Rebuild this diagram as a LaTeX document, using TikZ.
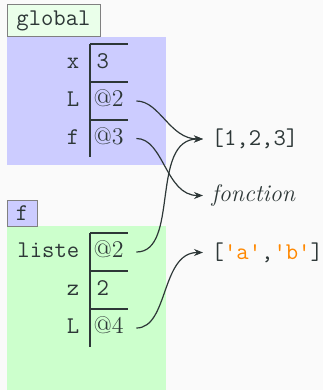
\documentclass[tikz,border=0pt]{standalone}
\usepackage{fontspec}
\usepackage{tikz}
\usetikzlibrary{arrows.meta}

\definecolor{fond}{RGB}{250,250,250}
\definecolor{bleu}{RGB}{204,204,255}
\definecolor{vert}{RGB}{204,255,204}
\definecolor{vertpale}{RGB}{234,255,234}
\definecolor{encre}{RGB}{45,55,55}
\definecolor{chaine}{RGB}{255,136,0}

\tikzset{
  nom/.style={anchor=east, inner sep=1pt, text height=8pt, text depth=2.5pt, font=\fontsize{12}{14}\selectfont\ttfamily},
  val/.style={anchor=west, inner sep=1pt, text height=8pt, text depth=2.5pt, font=\fontsize{12}{14}\selectfont},
  cible/.style={anchor=west, inner xsep=4pt, inner ysep=1pt, font=\fontsize{12}{14}\selectfont},
  etiq/.style={inner sep=0pt, font=\fontsize{12}{14}\selectfont\ttfamily},
  fleche/.style={-{Stealth[length=4.5pt,width=3.5pt]}, line width=0.6pt, shorten <=5pt}
}

\begin{document}
\begin{tikzpicture}[x=0.5pt,y=-0.5pt,encre,line width=0.7pt]
\fill[fond] (0,0) rectangle (323,390);
\useasboundingbox (0,0) rectangle (323,390);

% cadre global
\fill[bleu] (7,37) rectangle (166,165);
\draw[draw=gray, fill=vertpale, line width=0.5pt] (7,5) rectangle (100,37);
\node[etiq] (eglobal) at (53.5,21) {global};
\draw (90,44) -- (90,157);
\foreach \y in {44,82,120}
    \draw (90,\y) -- (128,\y);
\node[nom] (nx) at (82,63) {x};
\node[nom] (nL) at (82,101) {L};
\node[nom] (nf) at (82,138.5) {f};
\node[val] (vx) at (94,63) {\ttfamily 3};
\node[val] (vL) at (91,101) {@2};
\node[val] (vf) at (91,138.5) {@3};

% cadre f
\fill[vert] (7,226) rectangle (166,390);
\draw[draw=gray, fill=bleu, line width=0.5pt] (7,200) rectangle (37,226);
\node[etiq] (ef) at (22,213) {f};
\draw (90,233) -- (90,347);
\foreach \y in {233,271,309}
    \draw (90,\y) -- (128,\y);
\node[nom] (nliste) at (82,252) {liste};
\node[nom] (nz) at (82,290) {z};
\node[nom] (nL2) at (82,328) {L};
\node[val] (vliste) at (91,252) {@2};
\node[val] (vz) at (94,290) {\ttfamily 2};
\node[val] (vL2) at (91,328) {@4};

% objets
\node[cible] (liste123) at (203,139) {\ttfamily [1,2,3]};
\node[cible] (fonction) at (203,195.5) {\itshape fonction};
\node[cible] (listeab) at (203,252.5) {\ttfamily [\textcolor{chaine}{'a'},\textcolor{chaine}{'b'}]};

\draw[fleche] (vL.east) to[out=0,in=180] (liste123.west);
\draw[fleche] (vf.east) to[out=0,in=180] (fonction.west);
\draw[fleche] (vliste.east) to[out=0,in=180] (liste123.west);
\draw[fleche] (vL2.east) to[out=0,in=180] (listeab.west);
\end{tikzpicture}
\end{document}
